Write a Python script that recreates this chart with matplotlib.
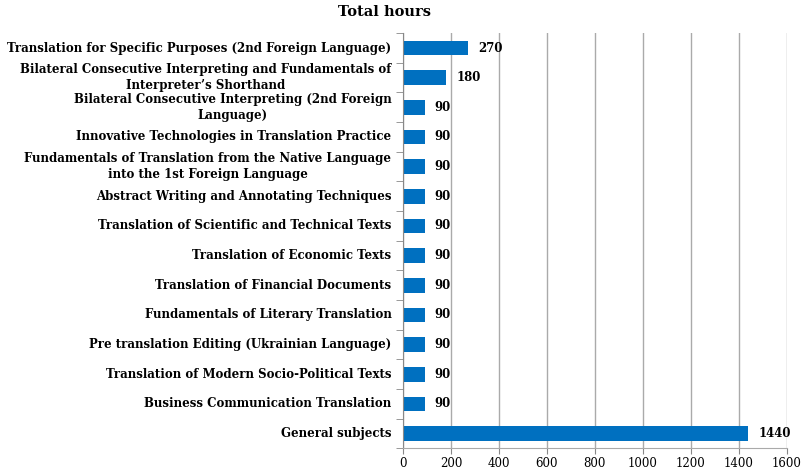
import numpy as np
import matplotlib.pyplot as plt

# data (top to bottom as shown)
categories = [
    'Translation for Specific Purposes (2nd Foreign Language)',
    'Bilateral Consecutive Interpreting and Fundamentals of\nInterpreter\u2019s Shorthand',
    'Bilateral Consecutive Interpreting (2nd Foreign\nLanguage)',
    'Innovative Technologies in Translation Practice',
    'Fundamentals of Translation from the Native Language\ninto the 1st Foreign Language',
    'Abstract Writing and Annotating Techniques',
    'Translation of Scientific and Technical Texts',
    'Translation of Economic Texts',
    'Translation of Financial Documents',
    'Fundamentals of Literary Translation',
    'Pre translation Editing (Ukrainian Language)',
    'Translation of Modern Socio-Political Texts',
    'Business Communication Translation',
    'General subjects',
]
hours = [270, 180, 90, 90, 90, 90, 90, 90, 90, 90, 90, 90, 90, 1440]
xticks = [0, 200, 400, 600, 800, 1000, 1200, 1400, 1600]

plt.rcParams['font.family'] = ['DejaVu Serif']

fig = plt.figure(figsize=(8.06, 4.74), dpi=100)
ax = fig.add_axes([0.5, 0.054, 0.476, 0.876])

y = np.arange(len(categories))[::-1]
ax.barh(y, hours, height=0.5, color='#0070C0')

for yi, v in zip(y, hours):
    ax.text(v + 42, yi, str(v), va='center', ha='left', fontsize=8.5, fontweight='bold')

# category labels: right aligned block, lines centered
for yi, c in zip(y, categories):
    ax.text(-0.03, yi, c, transform=ax.get_yaxis_transform(), ha='right', va='center',
            multialignment='center', fontsize=8.5, fontweight='bold', linespacing=1.25)

ax.set_xlim(0, 1600)
ax.set_ylim(-0.5, len(categories) - 0.5)
ax.set_xticks(xticks)
ax.set_xticklabels([str(t) for t in xticks], fontsize=8.5)
ax.set_yticks([])
ax.set_yticks(np.arange(len(categories) + 1) - 0.5, minor=True)
ax.tick_params(axis='y', which='minor', length=5, color='#888888')
ax.tick_params(axis='x', length=4, color='#888888', pad=2)

ax.grid(axis='x', color='#aaaaaa', linewidth=1)
ax.set_axisbelow(True)
for s in ['top', 'right']:
    ax.spines[s].set_visible(False)
ax.spines['left'].set_color('#888888')
ax.spines['bottom'].set_color('#aaaaaa')

fig.text(0.477, 0.974, 'Total hours', ha='center', va='center', fontsize=10.5, fontweight='bold')

fig.savefig('out.png', dpi=100)
